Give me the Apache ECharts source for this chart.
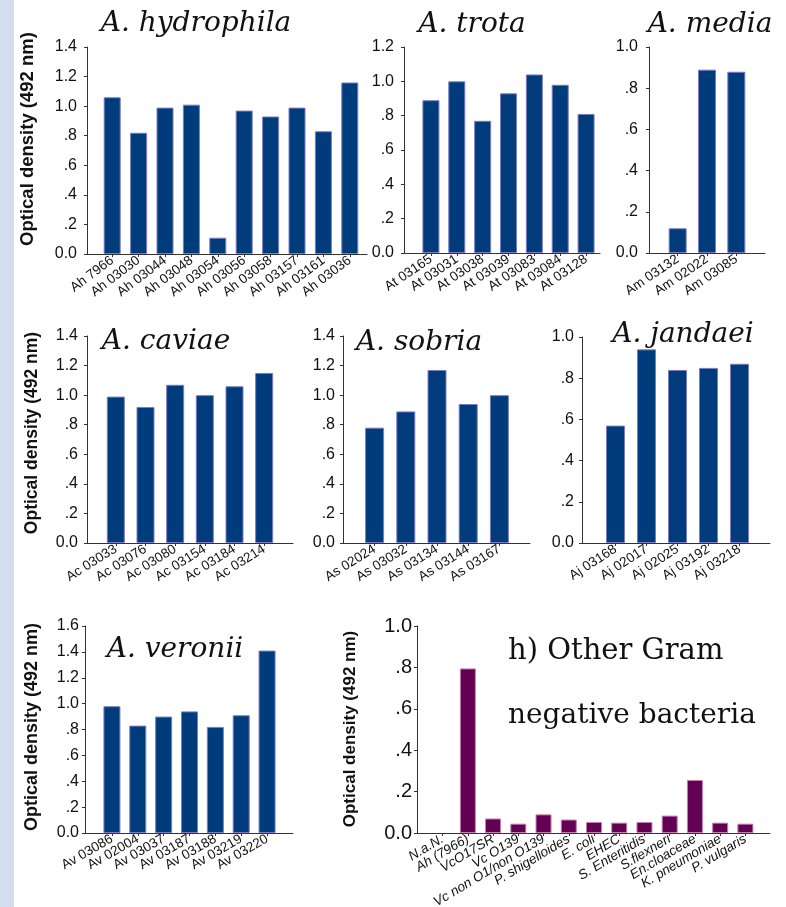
<!DOCTYPE html>
<html>
<head>
<meta charset="utf-8">
<script src="https://cdn.jsdelivr.net/npm/echarts@6/dist/echarts.min.js"></script>
<style>
  html, body { margin: 0; padding: 0; background: #fff; }
  #chart { width: 786px; height: 907px; }
</style>
</head>
<body>
<div id="chart"></div>
<script>
// strain names and optical density (492 nm) per species
const hydrophilaStrains = ['Ah 7966', 'Ah 03030', 'Ah 03044', 'Ah 03048', 'Ah 03054', 'Ah 03056', 'Ah 03058', 'Ah 03157', 'Ah 03161', 'Ah 03036'];
const hydrophilaOD = [1.06, 0.82, 0.99, 1.01, 0.11, 0.97, 0.93, 0.99, 0.83, 1.16];

const trotaStrains = ['At 03165', 'At 03031', 'At 03038', 'At 03039', 'At 03083', 'At 03084', 'At 03128'];
const trotaOD = [0.89, 1.0, 0.77, 0.93, 1.04, 0.98, 0.81];

const mediaStrains = ['Am 03132', 'Am 02022', 'Am 03085'];
const mediaOD = [0.12, 0.89, 0.88];

const caviaeStrains = ['Ac 03033', 'Ac 03076', 'Ac 03080', 'Ac 03154', 'Ac 03184', 'Ac 03214'];
const caviaeOD = [0.99, 0.92, 1.07, 1.0, 1.06, 1.15];

const sobriaStrains = ['As 02024', 'As 03032', 'As 03134', 'As 03144', 'As 03167'];
const sobriaOD = [0.78, 0.89, 1.17, 0.94, 1.0];

const jandaeiStrains = ['Aj 03168', 'Aj 02017', 'Aj 02025', 'Aj 03192', 'Aj 03218'];
const jandaeiOD = [0.57, 0.94, 0.84, 0.85, 0.87];

const veroniiStrains = ['Av 03086', 'Av 02004', 'Av 03037', 'Av 03187', 'Av 03188', 'Av 03219', 'Av 03220'];
const veroniiOD = [0.98, 0.83, 0.90, 0.94, 0.82, 0.91, 1.41];

const otherStrains = ['N.a.N.', 'Ah (7966)', 'VcO17SR', 'Vc O139', 'Vc non O1/non O139', 'P. shigelloides', 'E. coli', 'EHEC', 'S. Enteritidis', 'S.flexneri', 'En.cloaceae', 'K. pneumoniae', 'P. vulgaris'];
const otherOD = [0, 0.795, 0.07, 0.045, 0.09, 0.065, 0.053, 0.05, 0.053, 0.084, 0.256, 0.05, 0.045];

// y axis maxima (ticks every 0.2)
const yMaxes = [1.4, 1.2, 1.0, 1.4, 1.4, 1.0, 1.6, 1.0];
const yStep = 0.2;

const BLUE = '#003c7c';
const PURPLE = '#640054';
const SANS = 'Liberation Sans, Arial, sans-serif';

// layout of each panel (pixels)
const panels = [
  { cats: hydrophilaStrains, vals: hydrophilaOD, ax: 87, end: 367, top: 47, y0: 254, bl: 99, bw: 264, bar: 17, lm: 10, color: BLUE, lf: 13.5, rot: 37 },
  { cats: trotaStrains, vals: trotaOD, ax: 404, end: 600, top: 47, y0: 253, bl: 418, bw: 181, bar: 17, lm: 10, color: BLUE, lf: 13.5, rot: 34 },
  { cats: mediaStrains, vals: mediaOD, ax: 649, end: 765, top: 47, y0: 253, bl: 663, bw: 88, bar: 18, lm: 11, color: BLUE, lf: 13.5, rot: 34 },
  { cats: caviaeStrains, vals: caviaeOD, ax: 87, end: 293, top: 336, y0: 543, bl: 101, bw: 178, bar: 18, lm: 9, color: BLUE, lf: 13.5, rot: 32 },
  { cats: sobriaStrains, vals: sobriaOD, ax: 343, end: 530, top: 336, y0: 543, bl: 359, bw: 156, bar: 19, lm: 8, color: BLUE, lf: 13.5, rot: 32 },
  { cats: jandaeiStrains, vals: jandaeiOD, ax: 582, end: 770, top: 337, y0: 543, bl: 600, bw: 155, bar: 19, lm: 8, color: BLUE, lf: 13.5, rot: 33 },
  { cats: veroniiStrains, vals: veroniiOD, ax: 85, end: 293, top: 626, y0: 833, bl: 99, bw: 181, bar: 17, lm: 6, color: BLUE, lf: 13.5, rot: 30 },
  { cats: otherStrains, vals: otherOD, ax: 417, end: 770, top: 626, y0: 833, bl: 430, bw: 328, bar: 16, lm: 5, color: PURPLE, lf: 13.5, rot: 31, italic: true, tf: 20 }
];

function odLabel(v) {
  const s = v.toFixed(1);
  if (v === 0) return '0.0';
  return v < 1 ? s.slice(1) : s;
}

const grid = [], xAxis = [], yAxis = [], series = [];
panels.forEach((p, i) => {
  const yMax = yMaxes[i];
  // frame grid: axis lines + y ticks
  grid.push({ left: p.ax, top: p.top, width: p.end - p.ax, height: p.y0 - p.top, containLabel: false, outerBoundsMode: 'none' });
  xAxis.push({
    gridIndex: grid.length - 1, type: 'value', min: 0, max: 1,
    axisLine: { show: true, lineStyle: { color: '#333', width: 1 } },
    axisTick: { show: false }, axisLabel: { show: false }, splitLine: { show: false }
  });
  yAxis.push({
    gridIndex: grid.length - 1, type: 'value', min: 0, max: yMax, interval: yStep,
    axisLine: { show: true, lineStyle: { color: '#333', width: 1 } },
    axisTick: { show: true, length: 3, lineStyle: { color: '#333' } },
    axisLabel: { margin: p.lm, color: '#111', fontSize: p.tf || 16, fontFamily: SANS, formatter: odLabel },
    splitLine: { show: false }
  });
  // bar grid
  grid.push({ left: p.bl, top: p.top, width: p.bw, height: p.y0 - p.top, containLabel: false, outerBoundsMode: 'none' });
  xAxis.push({
    gridIndex: grid.length - 1, type: 'category', data: p.cats,
    axisLine: { show: false },
    axisTick: { show: true, alignWithLabel: true, length: 3, lineStyle: { color: '#333' } },
    axisLabel: {
      interval: 0, rotate: p.rot, margin: 5, color: '#111', fontSize: p.lf,
      fontFamily: SANS, fontStyle: p.italic ? 'italic' : 'normal'
    }
  });
  yAxis.push({ gridIndex: grid.length - 1, type: 'value', min: 0, max: yMax, show: false });
  const edge = p.color === BLUE ? '#7a7cc0' : '#c080b0';
  series.push({
    type: 'bar', xAxisIndex: xAxis.length - 1, yAxisIndex: yAxis.length - 1,
    // no outline on empty (zero) bars
    data: p.vals.map(v => ({ value: v, itemStyle: { borderWidth: v === 0 ? 0 : 1 } })),
    barWidth: p.bar,
    itemStyle: { color: p.color, borderColor: edge, borderWidth: 1 }
  });
});

const TITLE_FONT = 'DejaVu Serif, serif';
function speciesTitle(text, x, y) {
  return {
    type: 'text', x: x, y: y, z: 100,
    style: { text: text, font: 'italic 28px ' + TITLE_FONT, fill: '#111', textAlign: 'center', textVerticalAlign: 'middle' }
  };
}
function yTitle(x, y, size) {
  return {
    type: 'text', x: x, y: y, rotation: Math.PI / 2, z: 100,
    style: { text: 'Optical density (492 nm)', font: 'bold ' + size + 'px ' + SANS, fill: '#111', textAlign: 'center', textVerticalAlign: 'middle' }
  };
}

const graphic = [
  { type: 'rect', shape: { x: 0, y: 0, width: 14, height: 907 }, style: { fill: '#d4ddef' }, z: -10 },
  speciesTitle('A. hydrophila', 196, 24),
  speciesTitle('A. trota', 472, 25),
  speciesTitle('A. media', 710, 25),
  speciesTitle('A. caviae', 166, 342),
  speciesTitle('A. sobria', 419, 343),
  speciesTitle('A. jandaei', 683, 335),
  speciesTitle('A. veronii', 175, 650),
  { type: 'text', x: 508, y: 651, z: 100, style: { text: 'h) Other Gram', font: '29px ' + TITLE_FONT, fill: '#111', textVerticalAlign: 'middle' } },
  { type: 'text', x: 508, y: 716, z: 100, style: { text: 'negative bacteria', font: '28px ' + TITLE_FONT, fill: '#111', textVerticalAlign: 'middle' } },
  yTitle(28, 139, 18.5),
  yTitle(32, 433, 17.5),
  yTitle(32, 727, 18),
  yTitle(350, 729, 17)
];

const chart = echarts.init(document.getElementById('chart'));
chart.setOption({
  animation: false,
  backgroundColor: '#fff',
  grid: grid,
  xAxis: xAxis,
  yAxis: yAxis,
  series: series,
  graphic: graphic
});
</script>
</body>
</html>
